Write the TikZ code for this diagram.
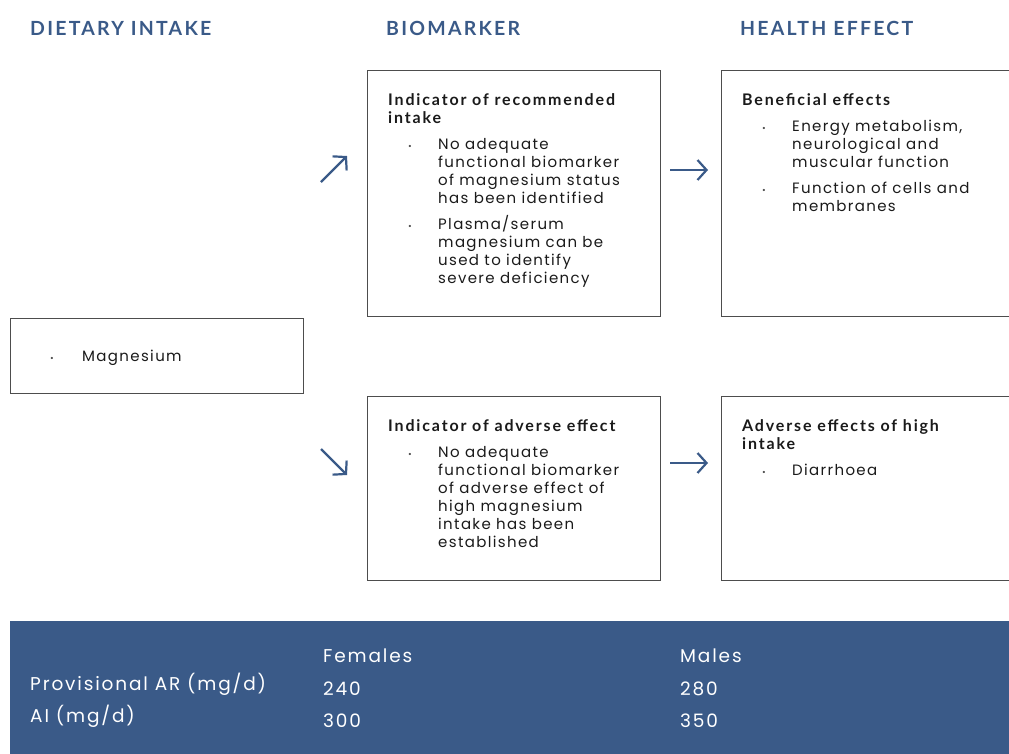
\documentclass[tikz,border=0pt]{standalone}
\usepackage{fontspec}
\setmainfont{Poppins}[LetterSpace=9]
\newfontfamily\headfont{Lato}[LetterSpace=11.5]
\newfontfamily\bandfont{Poppins}[LetterSpace=10]
\usetikzlibrary{arrows.meta,positioning,calc}
\definecolor{efsablue}{HTML}{3A5A88}
\definecolor{boxgrey}{HTML}{4D4D4D}
\definecolor{inkblack}{HTML}{1A1A1A}
\newcommand\stack[1]{\begin{tabular}[t]{@{}l@{}}#1\end{tabular}}

\tikzset{
    heading/.style={anchor=base west, inner sep=0pt, text=efsablue,
        font=\headfont\bfseries\fontsize{19.5}{22}\selectfont},
    panel/.style={draw=boxgrey, line width=1.3pt, anchor=north west, inner sep=0pt},
    boxtitle/.style={anchor=base west, inner sep=0pt, text=inkblack,
        font=\headfont\bfseries\fontsize{16}{18}\selectfont},
    boxitem/.style={anchor=base west, inner sep=0pt, text=inkblack,
        font=\fontsize{15}{18}\selectfont},
    dot/.style={anchor=base west, inner sep=0pt, text=boxgrey,
        font=\fontsize{9}{9}\selectfont},
    flow/.style={draw=efsablue, line width=2.2pt,
        -{Straight Barb[length=9pt,width=20pt]}},
    tabtext/.style={anchor=base west, inner sep=0pt, text=white,
        font=\bandfont\fontsize{18.5}{22}\selectfont},
}

\begin{document}
\begin{tikzpicture}[x=1pt, y=-1pt]
    \useasboundingbox (0,0) rectangle (1009,753);
    \clip (0,0) rectangle (1009,753);

    % column headings
    \node[heading] (hdiet) at (30,35) {DIETARY INTAKE};
    \node[heading] (hbio) at (386,35) {BIOMARKER};
    \node[heading] (hhealth) at (740,35) {HEALTH EFFECT};

    % boxes
    \node[panel, minimum width=293, minimum height=75] (mag) at (10,318) {};
    \node[panel, minimum width=293, minimum height=246] (rec) at (367,70) {};
    \node[panel, minimum width=310, minimum height=246] (ben) at (721,70) {};
    \node[panel, minimum width=293, minimum height=184] (advind) at (367,396) {};
    \node[panel, minimum width=310, minimum height=184] (adveff) at (721,396) {};

    % dietary intake
    \node[dot] (magd) at (50,361) {•};
    \node[boxitem] (mag1) at (82,361) {Magnesium};

    % biomarker: recommended intake
    \node[boxtitle] (recT) at (388,105) {\stack{Indicator of recommended\\intake}};
    \node[dot] (recd1) at (408,149) {•};
    \node[boxitem] (rec1) at (438,149) {\stack{No adequate\\functional biomarker\\of magnesium status\\has been identified}};
    \node[dot] (recd2) at (408,229) {•};
    \node[boxitem] (rec2) at (438,229) {\stack{Plasma/serum\\magnesium can be\\used to identify\\severe deficiency}};

    % health effect: beneficial
    \node[boxtitle] (benT) at (742,105) {Beneficial effects};
    \node[dot] (bend1) at (762,131) {•};
    \node[boxitem] (ben1) at (792,131) {\stack{Energy metabolism,\\neurological and\\muscular function}};
    \node[dot] (bend2) at (762,193) {•};
    \node[boxitem] (ben2) at (792,193) {\stack{Function of cells and\\membranes}};

    % biomarker: adverse effect
    \node[boxtitle] (advindT) at (388,431) {Indicator of adverse effect};
    \node[dot] (advindd1) at (408,457) {•};
    \node[boxitem] (advind1) at (438,457) {\stack{No adequate\\functional biomarker\\of adverse effect of\\high magnesium\\intake has been\\established}};

    % health effect: adverse
    \node[boxtitle] (adveffT) at (742,431) {\stack{Adverse effects of high\\intake}};
    \node[dot] (adveffd1) at (762,475) {•};
    \node[boxitem] (adveff1) at (792,475) {Diarrhoea};

    % arrows
    \coordinate (up0) at (321,182);
    \coordinate (up1) at (347,156);
    \coordinate (dn0) at (321,449);
    \coordinate (dn1) at (347,475);
    \coordinate (ra0) at (670,170);
    \coordinate (ra1) at (708,170);
    \coordinate (rb0) at (670,463);
    \coordinate (rb1) at (708,463);
    \draw[flow] (up0) -- (up1);
    \draw[flow] (dn0) -- (dn1);
    \draw[flow] (ra0) -- (ra1);
    \draw[flow] (rb0) -- (rb1);

    % reference values band
    \node[fill=efsablue, anchor=north west, inner sep=0pt,
        minimum width=1010, minimum height=140] (band) at (10,621) {};
    \node[tabtext] (fem) at (323,662) {Females};
    \node[tabtext] (mal) at (680,662) {Males};
    \node[tabtext] (ar) at (30,690) {Provisional AR (mg/d)};
    \node[tabtext] (arf) at (323,695) {240};
    \node[tabtext] (arm) at (680,695) {280};
    \node[tabtext] (ai) at (30,722) {AI (mg/d)};
    \node[tabtext] (aif) at (323,727) {300};
    \node[tabtext] (aim) at (680,727) {350};
\end{tikzpicture}
\end{document}
